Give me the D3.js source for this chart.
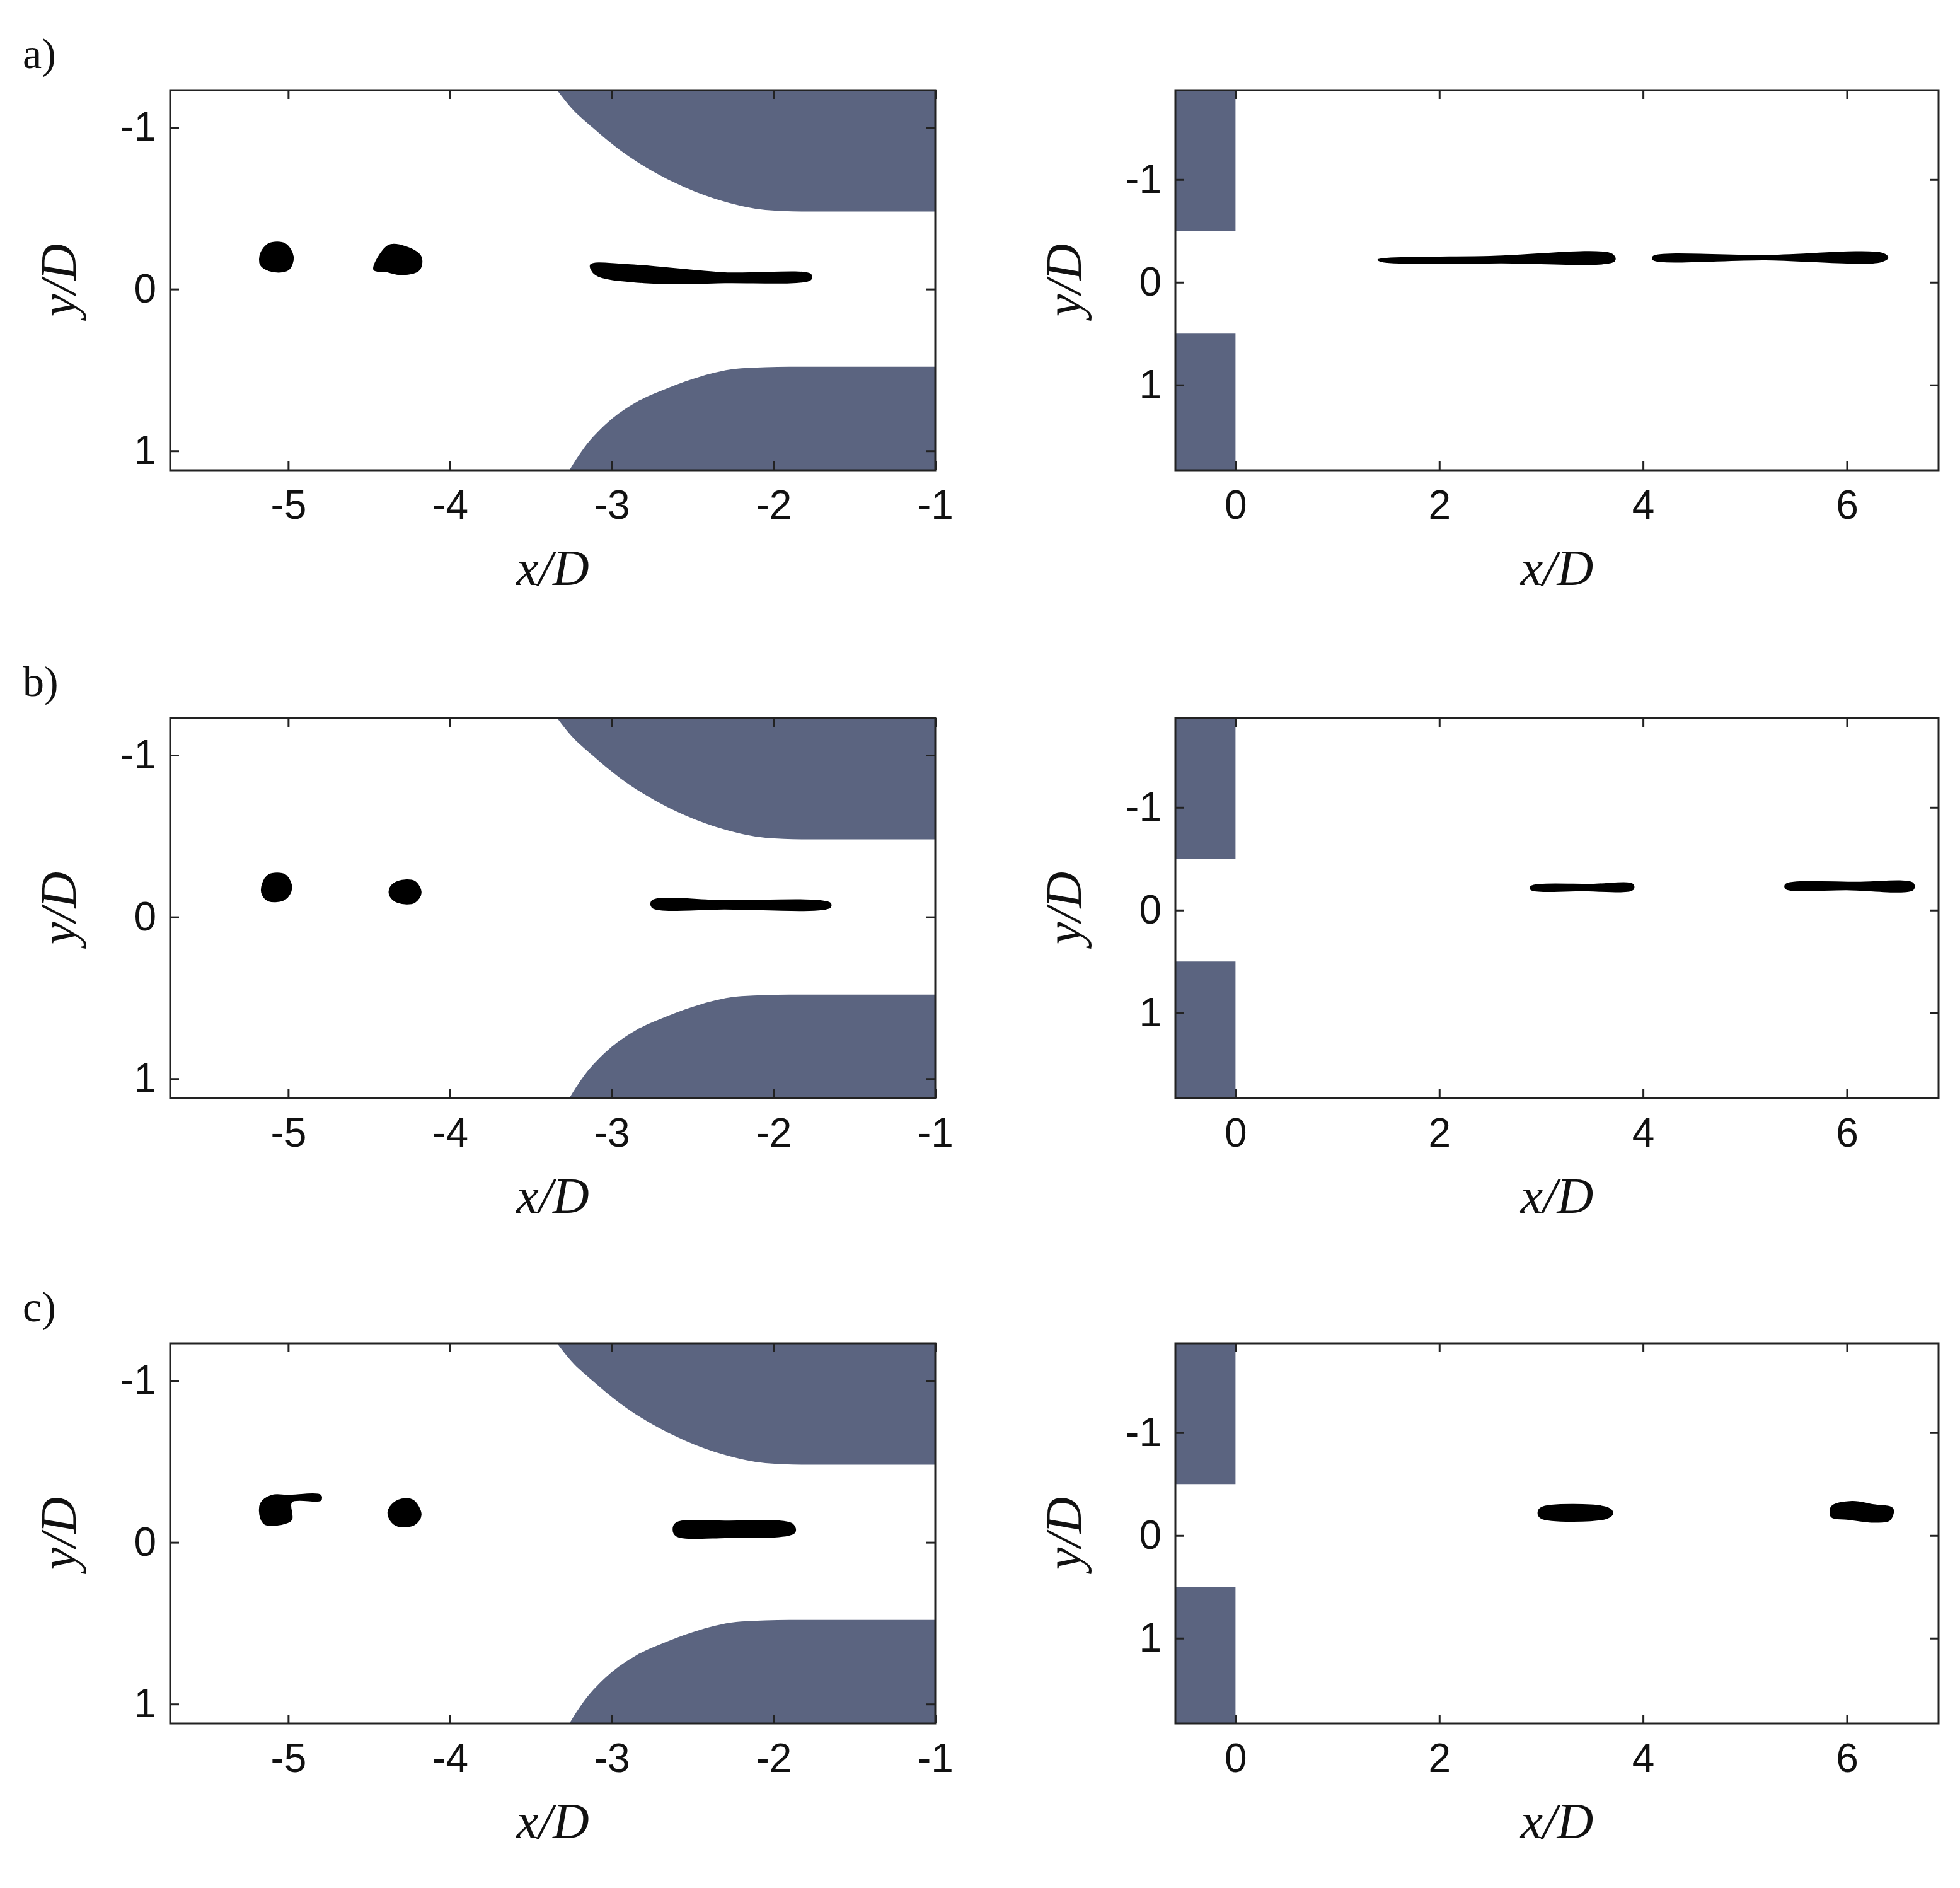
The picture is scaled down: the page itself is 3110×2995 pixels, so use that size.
<!DOCTYPE html>
<html><head><meta charset="utf-8">
<script src="https://cdn.jsdelivr.net/npm/d3@7"></script>
<style>body{margin:0;background:#fff}</style></head>
<body><svg id="c" width="3110" height="2995"></svg>
<script>
const panelLabels = ["a)", "b)", "c)"];
const leftXTicks = [-5, -4, -3, -2, -1];
const leftYTicks = [-1, 0, 1];
const rightXTicks = [0, 2, 4, 6];
const rightYTicks = [-1, 0, 1];
const leftXDomain = [-5.73, -1];
const leftYDomain = [-1.23, 1.12];
const rightXDomain = [-0.59, 6.9];
const rightYDomain = [-1.87, 1.83];
// gray nozzle regions (data units): curved edge, then closed along the frame
const leftTopEdge = [[-3.36,-1.26],[-3.25,-1.12],[-3.12,-1.0],[-2.95,-0.86],[-2.75,-0.73],[-2.55,-0.63],[-2.3,-0.54],[-2.05,-0.49],[-1.8,-0.48],[-1,-0.48]];
const leftTopClose = [[-1,-1.26]];
const leftBottomEdge = [[-3.28,1.15],[-3.17,0.98],[-3.02,0.82],[-2.85,0.70],[-2.65,0.61],[-2.45,0.54],[-2.2,0.49],[-1.9,0.48],[-1,0.48]];
const leftBottomClose = [[-1,1.15]];
const rightTopWall = [[-0.6,-1.9],[0,-1.9],[0,-0.5],[-0.6,-0.5]];
const rightBottomWall = [[-0.6,0.5],[0,0.5],[0,1.9],[-0.6,1.9]];
// black droplet/jet shapes per row, left and right panels (data units)
const leftShapes = [
  [
    [[-5.17,-0.22],[-5.12,-0.28],[-5.02,-0.28],[-4.97,-0.2],[-5.0,-0.12],[-5.1,-0.11],[-5.17,-0.15]],
    [[-4.47,-0.12],[-4.38,-0.27],[-4.27,-0.26],[-4.18,-0.2],[-4.19,-0.12],[-4.3,-0.09],[-4.4,-0.11]],
    [[-3.13,-0.15],[-2.9,-0.15],[-2.3,-0.1],[-1.77,-0.09],[-1.77,-0.06],[-2.3,-0.04],[-2.8,-0.04],[-3.1,-0.09]]
  ],
  [
    [[-5.16,-0.2],[-5.12,-0.26],[-5.02,-0.26],[-4.98,-0.18],[-5.02,-0.11],[-5.12,-0.1],[-5.16,-0.14]],
    [[-4.37,-0.18],[-4.32,-0.22],[-4.22,-0.22],[-4.18,-0.15],[-4.22,-0.09],[-4.32,-0.09],[-4.37,-0.13]],
    [[-2.75,-0.1],[-2.3,-0.1],[-1.65,-0.085],[-1.65,-0.06],[-2.3,-0.05],[-2.75,-0.06]]
  ],
  [
    [[-5.17,-0.24],[-5.1,-0.29],[-5.0,-0.29],[-4.8,-0.29],[-4.8,-0.26],[-4.98,-0.25],[-4.98,-0.14],[-5.05,-0.11],[-5.14,-0.11],[-5.17,-0.15]],
    [[-4.38,-0.2],[-4.32,-0.26],[-4.23,-0.26],[-4.18,-0.17],[-4.22,-0.11],[-4.32,-0.1],[-4.37,-0.14]],
    [[-2.6,-0.12],[-2.3,-0.13],[-1.88,-0.11],[-1.87,-0.06],[-2.3,-0.03],[-2.6,-0.04],[-2.62,-0.08]]
  ]
];
const rightShapes = [
  [
    [[1.4,-0.22],[2.5,-0.25],[3.7,-0.27],[3.72,-0.21],[2.6,-0.19],[1.45,-0.2]],
    [[4.1,-0.25],[5.2,-0.26],[6.35,-0.28],[6.4,-0.24],[6.33,-0.2],[5.2,-0.22],[4.1,-0.22]]
  ],
  [
    [[2.9,-0.23],[3.5,-0.25],[3.9,-0.25],[3.9,-0.2],[3.4,-0.19],[2.9,-0.2]],
    [[5.4,-0.25],[6.1,-0.27],[6.65,-0.26],[6.65,-0.2],[6.0,-0.2],[5.4,-0.21]]
  ],
  [
    [[3.0,-0.27],[3.65,-0.27],[3.7,-0.22],[3.65,-0.17],[3.0,-0.17],[2.97,-0.22]],
    [[5.85,-0.28],[6.05,-0.33],[6.25,-0.3],[6.45,-0.26],[6.42,-0.15],[6.28,-0.13],[6.0,-0.16],[5.85,-0.18]]
  ]
];
const xLabel = "x/D";
const yLabel = "y/D";

const svg = d3.select("#c");
const wallColor = "#5b6480";
const rowTops = [143, 1139, 2131];
const ph = 603;
const L = {x0: 270, x1: 1484};
const R = {x0: 1865, x1: 3076};

function panel(x0, x1, top, xDom, yDom, xTicks, yTicks, left, shapes) {
  const x = d3.scaleLinear().domain(xDom).range([x0, x1]);
  const y = d3.scaleLinear().domain(yDom).range([top, top + ph]);
  const g = svg.append("g");
  const clipId = "clip" + Math.random().toString(36).slice(2);
  g.append("clipPath").attr("id", clipId).append("rect")
    .attr("x", x0).attr("y", top).attr("width", x1 - x0).attr("height", ph);
  const inner = g.append("g").attr("clip-path", `url(#${clipId})`);
  const line = d3.line().x(d => x(d[0])).y(d => y(d[1]));
  const smooth = d3.line().x(d => x(d[0])).y(d => y(d[1])).curve(d3.curveMonotoneX);
  if (left) {
    [[leftTopEdge, leftTopClose], [leftBottomEdge, leftBottomClose]].forEach(([e, c]) => {
      const p = smooth(e) + "L" + x(c[0][0]) + "," + y(c[0][1]) + "L" + x(e[0][0]) + "," + y(c[0][1]) + "Z";
      inner.append("path").attr("d", p).attr("fill", wallColor);
    });
  } else {
    [rightTopWall, rightBottomWall].forEach(w => inner.append("path").attr("d", line(w) + "Z").attr("fill", wallColor));
  }
  shapes.forEach(s => inner.append("path").attr("d", d3.line().x(d => x(d[0])).y(d => y(d[1])).curve(d3.curveCatmullRomClosed)(s)).attr("fill", "#000").attr("stroke", "#000").attr("stroke-width", 2));
  const tl = 14;
  const fmt = d => d < 0 ? "-" + Math.abs(d) : String(d);
  const ax = (axis, tr) => {
    const a = g.append("g").attr("transform", tr).call(axis);
    a.selectAll("path.domain").remove();
    a.selectAll("line").attr("stroke", "#222").attr("stroke-width", 3);
    a.selectAll("text").attr("font-family", "Liberation Sans, Arial, sans-serif").attr("font-size", 64).attr("fill", "#111");
    return a;
  };
  ax(d3.axisBottom(x).tickValues(xTicks).tickSize(-tl).tickPadding(32).tickFormat(fmt), `translate(0,${top + ph})`);
  ax(d3.axisTop(x).tickValues(xTicks).tickSize(-tl).tickFormat(""), `translate(0,${top})`);
  ax(d3.axisLeft(y).tickValues(yTicks).tickSize(-tl).tickPadding(22).tickFormat(fmt), `translate(${x0},0)`);
  ax(d3.axisRight(y).tickValues(yTicks).tickSize(-tl).tickFormat(""), `translate(${x1},0)`);
  g.append("rect").attr("x", x0).attr("y", top).attr("width", x1 - x0).attr("height", ph)
    .attr("fill", "none").attr("stroke", "#222").attr("stroke-width", 3);
  const lab = (tx, ty, rot, txt) => g.append("text").attr("transform", `translate(${tx},${ty}) rotate(${rot})`)
      .attr("text-anchor", "middle").attr("font-family", "Liberation Serif, DejaVu Serif, serif")
      .attr("font-style", "italic").attr("font-size", 80).attr("fill", "#111").text(txt);
  lab((x0 + x1) / 2, top + ph + 182, 0, xLabel);
  lab(x0 - 150, top + ph / 2, -90, yLabel);
}

rowTops.forEach((top, i) => {
  panel(L.x0, L.x1, top, leftXDomain, leftYDomain, leftXTicks, leftYTicks, true, leftShapes[i]);
  panel(R.x0, R.x1, top, rightXDomain, rightYDomain, rightXTicks, rightYTicks, false, rightShapes[i]);
  svg.append("text").attr("x", 36).attr("y", top - 35).attr("font-family", "Liberation Serif, Times New Roman, serif")
    .attr("font-size", 68).attr("fill", "#111").text(panelLabels[i]);
});
</script></body></html>
